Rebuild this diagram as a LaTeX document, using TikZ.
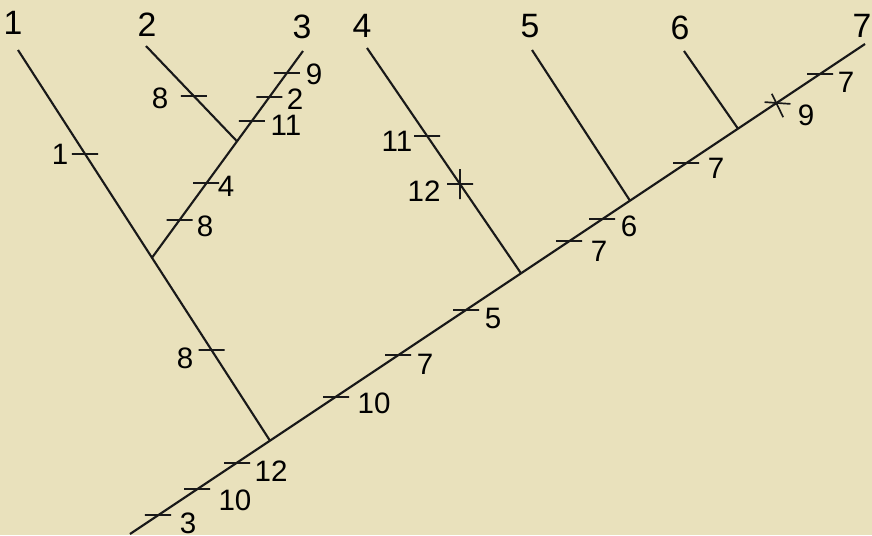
\documentclass[tikz,border=0pt]{standalone}
\usepackage{fontspec}
\setmainfont{Liberation Sans}
\usepackage{tikz}
\usetikzlibrary{positioning}
\definecolor{paper}{RGB}{233,225,188}
\tikzstyle{branch} = [line width=1.5pt, black!90]
\tikzstyle{bar} = [rectangle, draw=black!90, line width=1.2pt, minimum width=0.65cm, minimum height=0pt, inner sep=0pt]
\tikzstyle{vbar} = [bar, minimum width=0pt, minimum height=0.75cm]
\tikzstyle{taxon} = [inner sep=0pt, font=\fontsize{24}{24}\selectfont]
\tikzstyle{charlbl} = [inner sep=0pt, font=\fontsize{21}{21}\selectfont]

\begin{document}
\begin{tikzpicture}[x=0.025cm, y=-0.025cm]
  \fill[paper] (0,0) rectangle (872,535);
  \useasboundingbox (0,0) rectangle (872,535);

  % Tips and root
  \coordinate (root) at (130,534);
  \coordinate (tip1) at (18,50);
  \coordinate (tip2) at (146,46);
  \coordinate (tip3) at (303,51);
  \coordinate (tip4) at (367,48);
  \coordinate (tip5) at (532,50);
  \coordinate (tip6) at (684,51);
  \coordinate (tip7) at (865,44);

  % Forks
  \coordinate (jA) at (270,440.7);
  \coordinate (jB) at (152,257.7);
  \coordinate (jC) at (237,141.3);
  \coordinate (j4) at (521,273.3);
  \coordinate (j5) at (630,200.7);
  \coordinate (j6) at (738,128.7);

  % Taxa
  \node[taxon] (t1) at (13,23) {1};
  \node[taxon] (t2) at (147,25) {2};
  \node[taxon] (t3) at (302,27) {3};
  \node[taxon] (t4) at (362,26) {4};
  \node[taxon] (t5) at (530,26) {5};
  \node[taxon] (t6) at (680,28) {6};
  \node[taxon] (t7) at (862,26) {7};

  % Branches
  \draw[branch] (root) -- (tip7);
  \draw[branch] (jA) -- (tip1);
  \draw[branch] (jB) -- (tip3);
  \draw[branch] (jC) -- (tip2);
  \draw[branch] (j4) -- (tip4);
  \draw[branch] (j5) -- (tip5);
  \draw[branch] (j6) -- (tip6);

  % Character states, taxa 1-3
  \node[bar] (b1) at (85,154) {};
  \node[charlbl] (c1) at (60,154) {1};
  \node[bar] (b2) at (211.5,350) {};
  \node[charlbl] (c2) at (185,358) {8};
  \node[bar] (b3) at (193.8,96) {};
  \node[charlbl] (c3) at (160,98) {8};
  \node[bar] (b4) at (286.9,73) {};
  \node[charlbl] (c4) at (314,74) {9};
  \node[bar] (b5) at (269.4,97) {};
  \node[charlbl] (c5) at (295,99) {2};
  \node[bar] (b6) at (251.9,121) {};
  \node[charlbl] (c6) at (286,125) {11};
  \node[bar] (b7) at (206,183) {};
  \node[charlbl] (c7) at (226,186) {4};
  \node[bar] (b8) at (179.6,220) {};
  \node[charlbl] (c8) at (205,226) {8};

  % Character states, taxon 4
  \node[bar] (b9) at (427,136) {};
  \node[charlbl] (c9) at (397,141) {11};
  \node[bar] (b10) at (460,184) {};
  \node[vbar] (v10) at (460,184) {};
  \node[charlbl] (c10) at (424,191) {12};

  % Character states, stem
  \node[bar] (m1) at (158,515.3) {};
  \node[charlbl] (n1) at (188,523) {3};
  \node[bar] (m2) at (197,489.3) {};
  \node[charlbl] (n2) at (235,500) {10};
  \node[bar] (m3) at (237,462.7) {};
  \node[charlbl] (n3) at (271,471) {12};
  \node[bar] (m4) at (336,396.7) {};
  \node[charlbl] (n4) at (374,403) {10};
  \node[bar] (m5) at (398,355.3) {};
  \node[charlbl] (n5) at (425,364) {7};
  \node[bar] (m6) at (466,310) {};
  \node[charlbl] (n6) at (493,318) {5};
  \node[bar] (m7) at (569,241.3) {};
  \node[charlbl] (n7) at (599,251) {7};
  \node[bar] (m8) at (602,219.3) {};
  \node[charlbl] (n8) at (629,226) {6};
  \node[bar] (m9) at (686,163.3) {};
  \node[charlbl] (n9) at (716,168) {7};
  \node[bar, rotate=-4] (m10) at (777.5,103) {};
  \node[bar, rotate=-64] (x10) at (777.5,105.5) {};
  \node[charlbl] (n10) at (806,115) {9};
  \node[bar] (m11) at (820,74) {};
  \node[charlbl] (n11) at (846,82) {7};
\end{tikzpicture}
\end{document}
